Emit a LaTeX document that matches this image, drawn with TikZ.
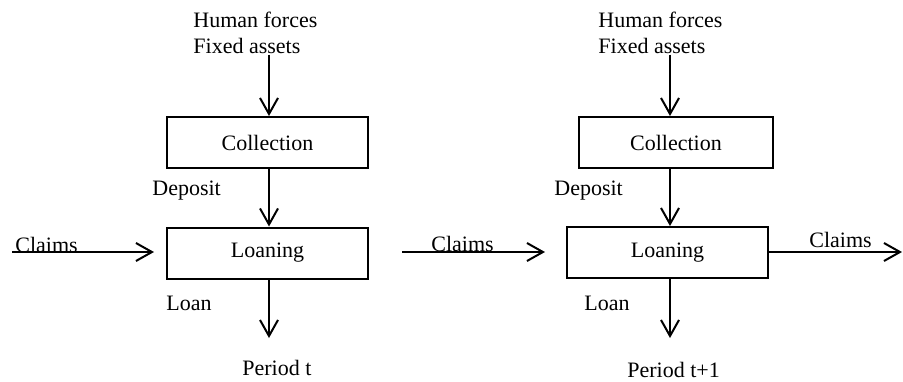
\documentclass[tikz,border=0pt]{standalone}
\usepackage{fontspec}
\setmainfont{Liberation Serif}
\usepackage{tikz}
\usetikzlibrary{arrows.meta,positioning}
\tikzset{block/.style={rectangle,draw=black,line width=1pt,minimum height=25.5pt,inner sep=0pt}}
\tikzset{lbl/.style={inner sep=0pt,font=\fontsize{11}{13}\selectfont}}
\tikzset{flow/.style={line width=1pt,-{Straight Barb[length=8pt,width=9pt,line width=1pt]}}}

\begin{document}
\begin{tikzpicture}[x=0.5pt,y=-0.5pt]
  \useasboundingbox (0,0) rectangle (903,381);
  % period t
  \node[block,minimum width=100.5pt] (coll1) at (267.5,142.5) {\fontsize{11}{13}\selectfont Collection};
  \node[block,minimum width=100.5pt] (loan1) at (267.5,253) {\fontsize{11}{13}\selectfont Loaning};
  \node[lbl,align=left,anchor=north west] (src1) at (193,12) {Human forces\\Fixed assets};
  \node[lbl,anchor=base west] (dep1) at (152,195) {Deposit};
  \node[lbl,anchor=base west] (ln1) at (166,310) {Loan};
  \node[lbl,anchor=base west] (claim1) at (15,252) {Claims};
  \node[lbl,anchor=base west] (per1) at (242,375) {Period t};
  \coordinate (x1) at (269,0);
  \coordinate (in1) at (12,252);
  \coordinate (out1) at (269,338);
  % period t+1
  \node[block,minimum width=97pt] (coll2) at (676,142.5) {\fontsize{11}{13}\selectfont Collection};
  \node[block,minimum width=100.5pt] (loan2) at (667.5,252.5) {\fontsize{11}{13}\selectfont Loaning};
  \node[lbl,align=left,anchor=north west] (src2) at (598,12) {Human forces\\Fixed assets};
  \node[lbl,anchor=base west] (dep2) at (554,195) {Deposit};
  \node[lbl,anchor=base west] (ln2) at (584,310) {Loan};
  \node[lbl,anchor=base west] (claim2) at (431,251) {Claims};
  \node[lbl,anchor=base west] (claim3) at (809,247) {Claims};
  \node[lbl,anchor=base west] (per2) at (627,377) {Period t+1};
  \coordinate (x2) at (670,0);
  \coordinate (in2) at (402,252);
  \coordinate (out2) at (670,338);
  \coordinate (out3) at (902,252);

  \draw[flow] (src1.south -| x1) -- (coll1.north -| x1);
  \draw[flow] (coll1.south -| x1) -- (loan1.north -| x1);
  \draw[flow] (loan1.south -| x1) -- (out1);
  \draw[flow,shorten >=6pt] (in1) -- (loan1.west |- in1);
  \draw[flow] (src2.south -| x2) -- (coll2.north -| x2);
  \draw[flow] (coll2.south -| x2) -- (loan2.north -| x2);
  \draw[flow] (loan2.south -| x2) -- (out2);
  \draw[flow,shorten >=10.5pt] (in2) -- (loan2.west |- in2);
  \draw[flow] (loan2.east |- out3) -- (out3);
\end{tikzpicture}
\end{document}
